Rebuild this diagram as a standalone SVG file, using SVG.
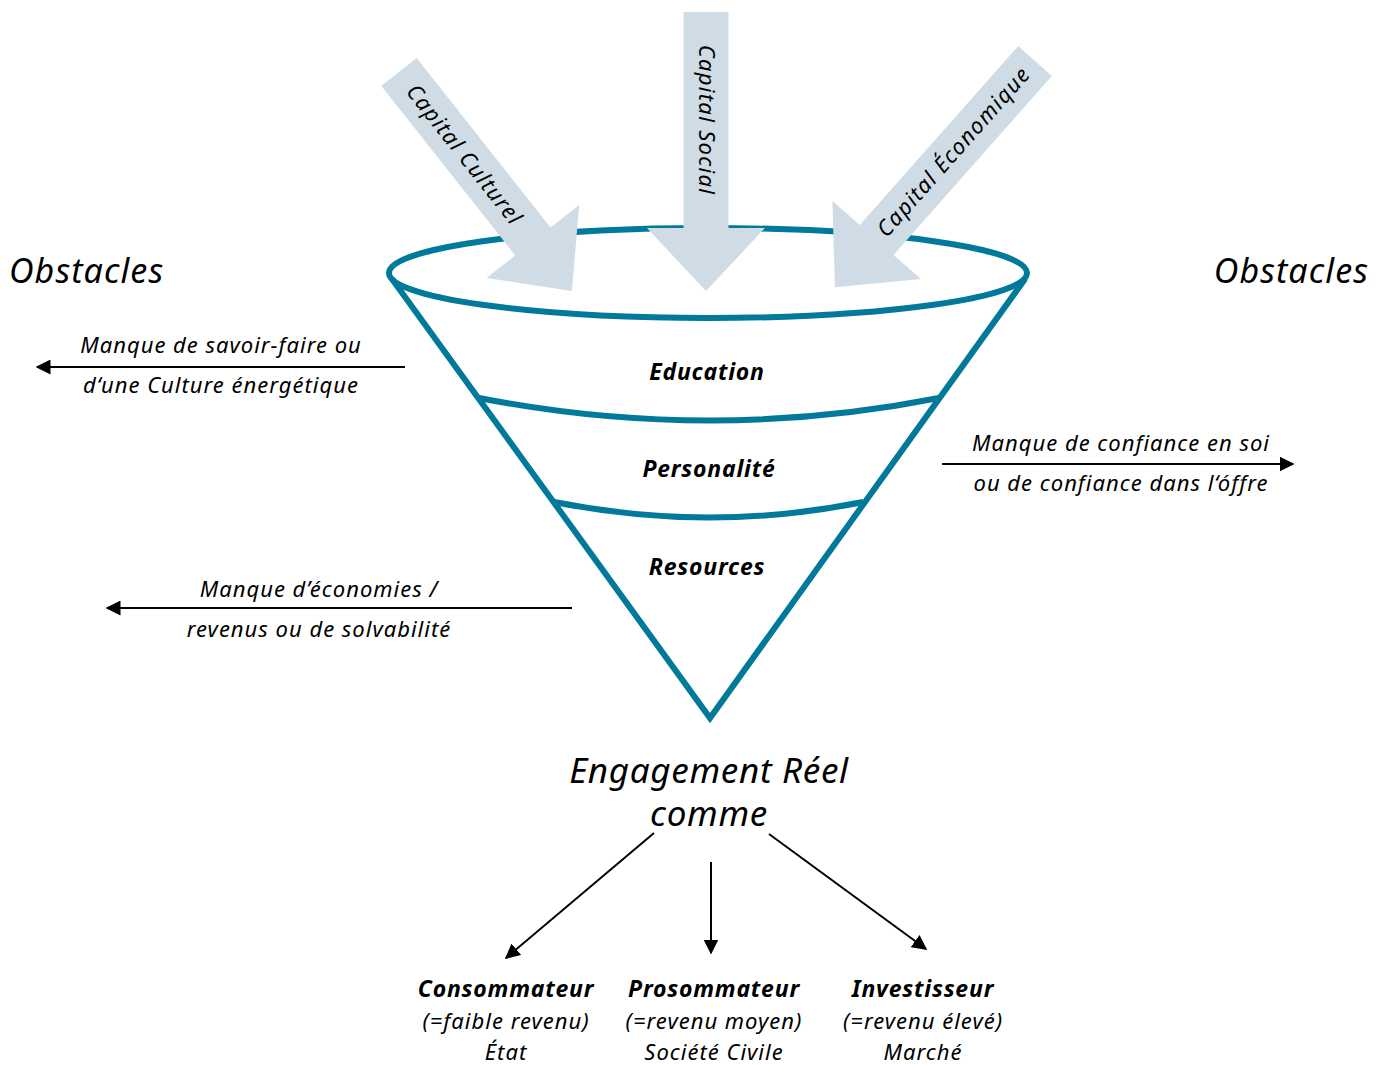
<svg xmlns="http://www.w3.org/2000/svg" width="1385" height="1065" viewBox="0 0 1385 1065">
<style>
text{font-family:"Noto Sans","Open Sans","DejaVu Sans",sans-serif;font-style:italic;fill:#000;}
.big{font-size:34px;letter-spacing:1.1px;}
.lbl{font-size:22px;letter-spacing:1px;text-anchor:middle;}
.bold{font-size:23px;font-weight:bold;letter-spacing:0.8px;text-anchor:middle;}
.cap{font-size:22px;letter-spacing:1.3px;text-anchor:middle;}
.eng{font-size:35px;letter-spacing:0.7px;text-anchor:middle;}
.funnel{fill:none;stroke:#00799a;stroke-width:6;stroke-linejoin:miter;}
.cap-arrow{fill:#cfdce5;}
.conn{stroke:#000;stroke-width:2;fill:none;}
</style>
<defs>
<marker id="ah" viewBox="0 0 10 10" refX="9" refY="5" markerWidth="15" markerHeight="15" markerUnits="userSpaceOnUse" orient="auto"><path d="M0,0 L10,5 L0,10 z" fill="#000"/></marker>
</defs>

<g id="funnel">
<ellipse cx="708" cy="273" rx="319" ry="45" fill="#fff" class="funnel"/>
<polyline class="funnel" points="392,279 710,718 1025,279"/>
<path class="funnel" d="M479,398 Q710,443 939,398"/>
<path class="funnel" d="M554,502 Q710,533 863,502"/>
<text class="bold" x="707" y="380">Education</text>
<text class="bold" x="709" y="477">Personalité</text>
<text class="bold" x="707" y="575">Resources</text>
</g>

<g id="capital-culturel">
<polygon class="cap-arrow" points="0,-22.5 216,-22.5 216,-59 279,0 216,59 216,22.5 0,22.5" transform="translate(399,72) rotate(51.7)"/>
<text class="cap" transform="translate(464,155) rotate(51.7)" y="7">Capital Culturel</text>
</g>
<g id="capital-social">
<polygon class="cap-arrow" points="0,-22.5 216,-22.5 216,-59 279,0 216,59 216,22.5 0,22.5" transform="translate(706,12) rotate(90)"/>
<text class="cap" transform="translate(706,120) rotate(90)" y="7">Capital Social</text>
</g>
<g id="capital-economique">
<polygon class="cap-arrow" points="0,-22.5 239,-22.5 239,-59 302,0 239,59 239,22.5 0,22.5" transform="translate(1035,61) rotate(131.5)"/>
<text class="cap" transform="translate(954,152) rotate(-48.5)" y="7">Capital Économique</text>
</g>

<g id="obstacles-left">
<text class="big" x="9" y="283">Obstacles</text>
</g>
<g id="obstacles-right">
<text class="big" x="1369" y="283" text-anchor="end">Obstacles</text>
</g>

<g id="obstacle-savoir">
<text class="lbl" x="221" y="353">Manque de savoir-faire ou</text>
<text class="lbl" x="221" y="393">d‘une Culture énergétique</text>
</g>
<g id="obstacle-confiance">
<text class="lbl" x="1121" y="451">Manque de confiance en soi</text>
<text class="lbl" x="1121" y="491">ou de confiance dans l‘óffre</text>
</g>
<g id="obstacle-economies">
<text class="lbl" x="319" y="597">Manque d’économies /</text>
<text class="lbl" x="319" y="637">revenus ou de solvabilité</text>
</g>

<g id="engagement">
<text class="eng" x="709" y="783">Engagement Réel</text>
<text class="eng" x="709" y="826">comme</text>
</g>

<g id="consommateur">
<text class="bold" x="506" y="997">Consommateur</text>
<text class="lbl" x="506" y="1029">(=faible revenu)</text>
<text class="lbl" x="506" y="1060">État</text>
</g>
<g id="prosommateur">
<text class="bold" x="714" y="997">Prosommateur</text>
<text class="lbl" x="714" y="1029">(=revenu moyen)</text>
<text class="lbl" x="714" y="1060">Société Civile</text>
</g>
<g id="investisseur">
<text class="bold" x="923" y="997">Investisseur</text>
<text class="lbl" x="923" y="1029">(=revenu élevé)</text>
<text class="lbl" x="923" y="1060">Marché</text>
</g>

<g id="connectors">
<line class="conn" x1="405" y1="367" x2="37" y2="367" marker-end="url(#ah)"/>
<line class="conn" x1="572" y1="608" x2="107" y2="608" marker-end="url(#ah)"/>
<line class="conn" x1="942" y1="464" x2="1293" y2="464" marker-end="url(#ah)"/>
<line class="conn" x1="654" y1="833" x2="506" y2="958" marker-end="url(#ah)"/>
<line class="conn" x1="711" y1="862" x2="711" y2="953" marker-end="url(#ah)"/>
<line class="conn" x1="769" y1="834" x2="926" y2="949" marker-end="url(#ah)"/>
</g>
</svg>
